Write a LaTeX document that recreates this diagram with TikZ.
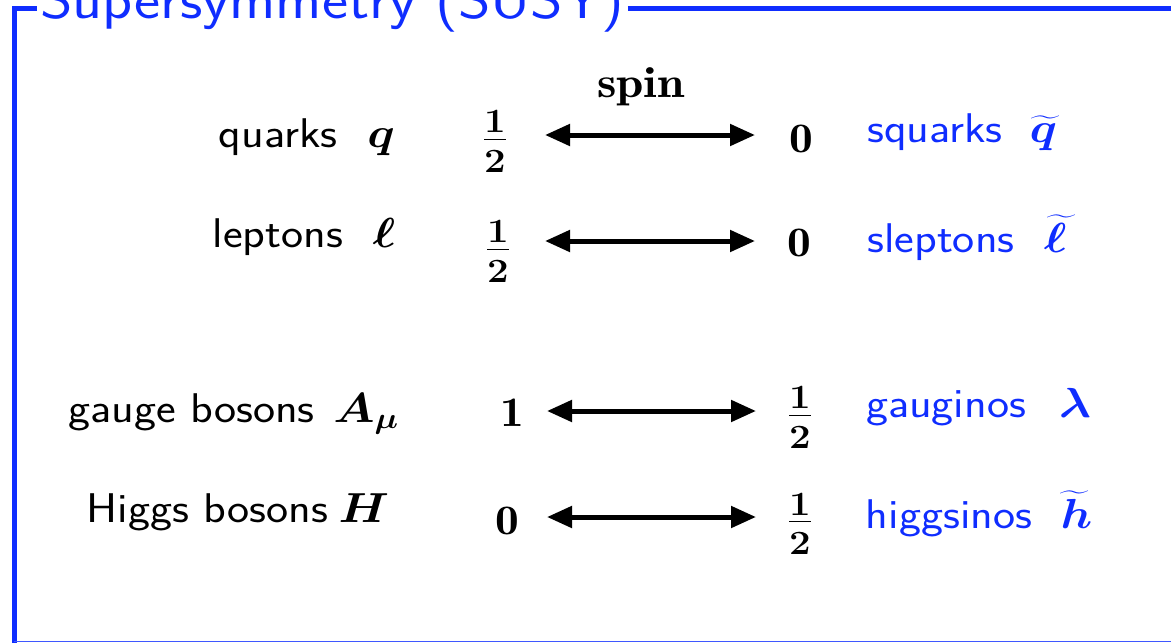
\RequirePackage{fix-cm}
\documentclass[tikz,border=0pt]{standalone}
\usepackage{fontspec}
\usepackage{amsmath}
\usepackage{bm}
\usepackage{graphicx}
\usetikzlibrary{arrows.meta}
\definecolor{susyblue}{RGB}{15,45,255}
\newcommand{\hs}[1]{\scalebox{1.13}[1]{#1}}
\newcommand{\fdig}[1]{\hbox{\fontsize{34}{34}\selectfont\bfseries #1}}
\newcommand{\half}{$\frac{\fdig{1}}{\rule{0pt}{32pt}\fdig{2}}$}
\tikzset{
  txt/.style={anchor=base, inner sep=0pt, font=\fontsize{41.5}{48}\sffamily\selectfont},
  mth/.style={anchor=base, inner sep=0pt, font=\fontsize{42}{50}\selectfont},
  sus/.style={text=susyblue},
  spinarrow/.style={line width=5pt, {Triangle[length=25pt,width=21pt]}-{Triangle[length=25pt,width=21pt]}},
  framebar/.style={draw=susyblue, line width=5pt},
}
\begin{document}
\begin{tikzpicture}[x=1pt,y=-1pt]
\useasboundingbox (0,0) rectangle (1171,643);
\clip (0,0) rectangle (1171,643);
% frame
\node[anchor=base, inner ysep=0pt, inner xsep=3pt, text=susyblue, font=\fontsize{55}{60}\sffamily\selectfont] (title) at (332.5,18) {\hs{Supersymmetry (SUSY)}};
\coordinate (tl) at (14,8);
\coordinate (bl) at (14,650);
\coordinate (tr) at (1180,8);
\coordinate (bl2) at (14,641.5);
\coordinate (br) at (1180,641.5);
\draw[framebar] (title.west |- tl) -- (tl) -- (bl);
\draw[framebar] (title.east |- tl) -- (tr);
\draw[draw=susyblue!80, line width=1.6pt] (bl2) -- (br);
% spin label
\node[mth, font=\fontsize{43.5}{50}\selectfont] (spin) at (641,97) {\hs{$\mathbf{spin}$}};
% row 1
\node[txt] (quarks) at (278,147) {\hs{quarks}};
\node[mth] (qsym) at (381,147) {\hs{$\bm{q}$}};
\node[mth] (s1l) at (495,149.5) {\hs{\half}};
\node[mth] (s1r) at (801.5,152) {\hs{$\mathbf 0$}};
\node[txt,sus] (squarks) at (935,142) {\hs{squarks}};
\node[mth,sus] (sqsym) at (1046,142) {\hs{$\widetilde{\bm{q}\mkern2mu}$}};
\coordinate (a1l) at (545,135);
\coordinate (a1r) at (755,135);
\draw[spinarrow] (a1l) -- (a1r);
% row 2
\node[txt] (leptons) at (278,247) {\hs{leptons}};
\node[mth] (lsym) at (384,247) {\hs{$\bm{\ell}$}};
\node[mth] (s2l) at (498,259.5) {\hs{\half}};
\node[mth] (s2r) at (799.5,256) {\hs{$\mathbf 0$}};
\node[txt,sus] (sleptons) at (941,252) {\hs{sleptons}};
\node[mth,sus] (slsym) at (1062,252) {\hs{$\widetilde{\bm{\ell}\mkern5mu}$}};
\coordinate (a2l) at (545,241);
\coordinate (a2r) at (755,241);
\draw[spinarrow] (a2l) -- (a2r);
% row 3
\node[txt] (gauge) at (191.5,422) {\hs{gauge bosons}};
\node[mth] (asym) at (366,422) {\hs{$\bm{A_\mu}$}};
\node[mth] (s3l) at (512,426.5) {\hs{$\mathbf 1$}};
\node[mth] (s3r) at (800,425.5) {\hs{\half}};
\node[txt,sus] (gauginos) at (946,417) {\hs{gauginos}};
\node[mth,sus] (lamsym) at (1075,417) {\hs{$\bm{\lambda}$}};
\coordinate (a3l) at (547,411);
\coordinate (a3r) at (756,411);
\draw[spinarrow] (a3l) -- (a3r);
% row 4
\node[txt] (higgs) at (207.5,522) {\hs{Higgs bosons}};
\node[mth] (hsym) at (364,522) {\hs{$\bm{H}$}};
\node[mth] (s4l) at (507.5,534) {\hs{$\mathbf 0$}};
\node[mth] (s4r) at (800,532) {\hs{\half}};
\node[txt,sus] (higgsinos) at (949,528) {\hs{higgsinos}};
\node[mth,sus] (htsym) at (1076.5,528) {\hs{$\widetilde{\bm{h}}$}};
\coordinate (a4l) at (547,517);
\coordinate (a4r) at (756,517);
\draw[spinarrow] (a4l) -- (a4r);
\end{tikzpicture}
\end{document}
